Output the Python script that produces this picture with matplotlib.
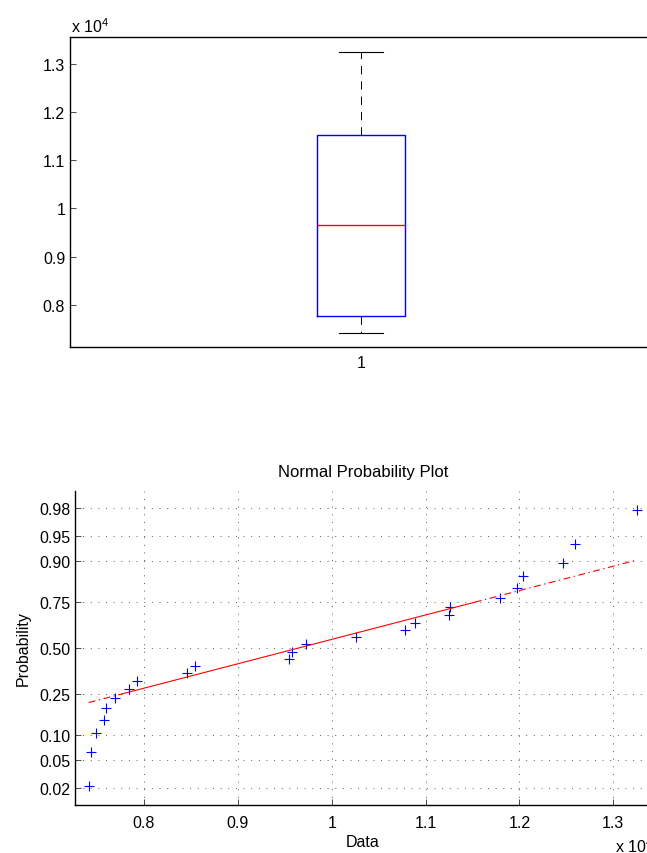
import matplotlib
matplotlib.use("Agg")
import matplotlib.pyplot as plt
import numpy as np
from statistics import NormalDist

plt.rcParams["font.family"] = ["Liberation Sans", "DejaVu Sans"]
plt.rcParams["font.size"] = 11.5
plt.rcParams["lines.scale_dashes"] = False
plt.rcParams["mathtext.fontset"] = "custom"
plt.rcParams["mathtext.rm"] = "Liberation Sans"
plt.rcParams["mathtext.default"] = "regular"

# sample values (sorted)
data = [7411, 7433, 7490, 7579, 7593, 7693, 7845, 7927, 8461, 8542,
        9541, 9576, 9730, 10256, 10786, 10885, 11255, 11258, 11792, 11970,
        12040, 12460, 12595, 13256]
value_ticks = [8000, 9000, 10000, 11000, 12000, 13000]
value_labels = ["0.8", "0.9", "1", "1.1", "1.2", "1.3"]
prob_ticks = [0.02, 0.05, 0.10, 0.25, 0.50, 0.75, 0.90, 0.95, 0.98]
prob_labels = ["0.02", "0.05", "0.10", "0.25", "0.50", "0.75", "0.90", "0.95", "0.98"]

nd = NormalDist()
x = np.array(data, dtype=float)
n = len(x)
q1, med, q3 = np.percentile(x, [25, 50, 75], method="hazen")

fig = plt.figure(figsize=(6.47, 8.54), dpi=100)

# --- box plot ---
ax1 = fig.add_axes([70 / 647, 1 - 348 / 854, 582 / 647, 310 / 854])
stats = [dict(med=med, q1=q1, q3=q3, whislo=x.min(), whishi=x.max(),
              fliers=[], label="1")]
bp = ax1.bxp(stats, positions=[1], widths=0.15, showfliers=False)
for b in bp["boxes"]:
    b.set_color("blue")
    b.set_linewidth(1.0)
for m in bp["medians"]:
    m.set_color("red")
    m.set_linewidth(1.0)
for w in bp["whiskers"]:
    w.set_color("black")
    w.set_linewidth(0.7)
    w.set_linestyle((0, (6, 5)))
for c in bp["caps"]:
    c.set_color("black")
    c.set_linewidth(0.8)
ax1.set_xlim(0.5, 1.5)
ax1.set_ylim(7120, 13560)
ax1.set_yticks(value_ticks)
ax1.set_yticklabels(value_labels)
ax1.tick_params(axis="y", direction="in", length=4, width=0.5, pad=3.5)
ax1.tick_params(axis="x", length=0, pad=6)
for s in ax1.spines.values():
    s.set_linewidth(1.0)
fig.text(71 / 647, 1 - 33 / 854, r"x 10$^{4}$", ha="left", va="baseline")

# --- normal probability plot ---
ax2 = fig.add_axes([75 / 647, 1 - 806 / 854, 576 / 647, 314 / 854])
z = [nd.inv_cdf((i + 0.5) / n) for i in range(n)]
ax2.plot(x, z, "+", color="blue", ms=7, mew=0.8)

z1, z3 = nd.inv_cdf(0.25), nd.inv_cdf(0.75)
slope = (z3 - z1) / (q3 - q1)
fit = lambda v: z1 + slope * (v - q1)
ax2.plot([q1, q3], [fit(q1), fit(q3)], color="red", lw=0.8)
dashdot = (0, (5, 2.5, 1, 2.5))
ax2.plot([x.min(), q1], [fit(x.min()), fit(q1)], color="red", lw=0.8, linestyle=dashdot)
ax2.plot([q3, x.max()], [fit(q3), fit(x.max())], color="red", lw=0.8, linestyle=dashdot)

rng = x.max() - x.min()
ax2.set_xlim(x.min() - 0.025 * rng, x.max() + 0.025 * rng)
ax2.set_ylim(nd.inv_cdf(0.25 / n), nd.inv_cdf(1 - 0.25 / n))
ax2.set_xticks(value_ticks)
ax2.set_xticklabels(value_labels)
ax2.set_yticks([nd.inv_cdf(p) for p in prob_ticks])
ax2.set_yticklabels(prob_labels)
ax2.grid(True, linestyle=(0, (0.7, 4.8)), color="0.25", lw=0.6)
ax2.tick_params(direction="in", length=4, width=0.5)
ax2.tick_params(axis="x", pad=7)
ax2.tick_params(axis="y", pad=3.5)
ax2.spines["top"].set_visible(False)
for s in ax2.spines.values():
    s.set_linewidth(1.0)
ax2.set_title("Normal Probability Plot", fontsize=12, pad=11)
ax2.set_xlabel("Data")
ax2.set_ylabel("Probability")
ax2.xaxis.set_label_coords(0.5, -0.092)
ax2.yaxis.set_label_coords(-0.076, 0.5)
fig.text(615 / 647, 1 - 853 / 854, r"x 10$^{4}$", ha="left", va="baseline")

fig.savefig("out.png", dpi=100)
